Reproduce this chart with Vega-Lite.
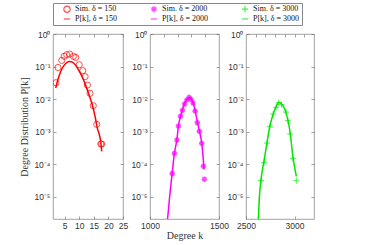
{
  "$schema": "https://vega.github.io/schema/vega-lite/v6.json",
  "padding": {"left": 19, "top": 2, "right": 2, "bottom": 0},
  "background": "white",
  "bounds": "flush",
  "datasets": {
    "s150": [
      {"series": "Sim. δ = 150", "k": 2, "p": 0.032},
      {"series": "Sim. δ = 150", "k": 2.7, "p": 0.094},
      {"series": "Sim. δ = 150", "k": 4, "p": 0.155},
      {"series": "Sim. δ = 150", "k": 4.8, "p": 0.206},
      {"series": "Sim. δ = 150", "k": 5.7, "p": 0.232},
      {"series": "Sim. δ = 150", "k": 6.7, "p": 0.242},
      {"series": "Sim. δ = 150", "k": 8, "p": 0.206},
      {"series": "Sim. δ = 150", "k": 8.8, "p": 0.191},
      {"series": "Sim. δ = 150", "k": 10, "p": 0.114},
      {"series": "Sim. δ = 150", "k": 11.2, "p": 0.075},
      {"series": "Sim. δ = 150", "k": 12, "p": 0.049},
      {"series": "Sim. δ = 150", "k": 12.8, "p": 0.027},
      {"series": "Sim. δ = 150", "k": 13.7, "p": 0.0151},
      {"series": "Sim. δ = 150", "k": 14.8, "p": 0.0063},
      {"series": "Sim. δ = 150", "k": 16, "p": 0.00169},
      {"series": "Sim. δ = 150", "k": 17.4, "p": 0.00042},
      {"series": "Sim. δ = 150", "k": 17.7, "p": 0.00042}
    ],
    "t150": [
      {"series": "P[k], δ = 150", "k": 1.93, "p": 0.022},
      {"series": "P[k], δ = 150", "k": 2.5, "p": 0.035},
      {"series": "P[k], δ = 150", "k": 3.64, "p": 0.071},
      {"series": "P[k], δ = 150", "k": 4.77, "p": 0.109},
      {"series": "P[k], δ = 150", "k": 5.94, "p": 0.137},
      {"series": "P[k], δ = 150", "k": 6.73, "p": 0.144},
      {"series": "P[k], δ = 150", "k": 7.65, "p": 0.137},
      {"series": "P[k], δ = 150", "k": 8.78, "p": 0.109},
      {"series": "P[k], δ = 150", "k": 9.9, "p": 0.075},
      {"series": "P[k], δ = 150", "k": 11.08, "p": 0.047},
      {"series": "P[k], δ = 150", "k": 12.2, "p": 0.0265},
      {"series": "P[k], δ = 150", "k": 13.34, "p": 0.0137},
      {"series": "P[k], δ = 150", "k": 14.5, "p": 0.0065},
      {"series": "P[k], δ = 150", "k": 15.4, "p": 0.003},
      {"series": "P[k], δ = 150", "k": 16.2, "p": 0.0013},
      {"series": "P[k], δ = 150", "k": 17.35, "p": 0.00051},
      {"series": "P[k], δ = 150", "k": 17.7, "p": 0.00025}
    ],
    "s2000": [
      {"series": "Sim. δ = 2000", "k": 1161, "p": 5.2e-5},
      {"series": "Sim. δ = 2000", "k": 1177, "p": 2.17e-4},
      {"series": "Sim. δ = 2000", "k": 1195, "p": 5.57e-4},
      {"series": "Sim. δ = 2000", "k": 1206, "p": 1.5e-3},
      {"series": "Sim. δ = 2000", "k": 1221, "p": 2.97e-3},
      {"series": "Sim. δ = 2000", "k": 1235, "p": 4.53e-3},
      {"series": "Sim. δ = 2000", "k": 1250, "p": 7.07e-3},
      {"series": "Sim. δ = 2000", "k": 1267, "p": 9.4e-3},
      {"series": "Sim. δ = 2000", "k": 1284, "p": 1.136e-2},
      {"series": "Sim. δ = 2000", "k": 1298, "p": 9.86e-3},
      {"series": "Sim. δ = 2000", "k": 1312, "p": 7.6e-3},
      {"series": "Sim. δ = 2000", "k": 1327, "p": 4.3e-3},
      {"series": "Sim. δ = 2000", "k": 1343, "p": 1.9e-3},
      {"series": "Sim. δ = 2000", "k": 1358, "p": 1.03e-3},
      {"series": "Sim. δ = 2000", "k": 1375, "p": 4.4e-4},
      {"series": "Sim. δ = 2000", "k": 1387, "p": 8.7e-5},
      {"series": "Sim. δ = 2000", "k": 1394, "p": 3.5e-5}
    ],
    "t2000": [
      {"series": "P[k], δ = 2000", "k": 1120, "p": 1.2e-6},
      {"series": "P[k], δ = 2000", "k": 1127, "p": 2.1e-6},
      {"series": "P[k], δ = 2000", "k": 1144, "p": 1.2e-5},
      {"series": "P[k], δ = 2000", "k": 1161, "p": 5.5e-5},
      {"series": "P[k], δ = 2000", "k": 1177, "p": 2.2e-4},
      {"series": "P[k], δ = 2000", "k": 1195, "p": 5.8e-4},
      {"series": "P[k], δ = 2000", "k": 1206, "p": 1.5e-3},
      {"series": "P[k], δ = 2000", "k": 1221, "p": 3.0e-3},
      {"series": "P[k], δ = 2000", "k": 1235, "p": 4.8e-3},
      {"series": "P[k], δ = 2000", "k": 1250, "p": 7.3e-3},
      {"series": "P[k], δ = 2000", "k": 1267, "p": 9.8e-3},
      {"series": "P[k], δ = 2000", "k": 1285, "p": 1.15e-2},
      {"series": "P[k], δ = 2000", "k": 1298, "p": 1.02e-2},
      {"series": "P[k], δ = 2000", "k": 1312, "p": 7.8e-3},
      {"series": "P[k], δ = 2000", "k": 1327, "p": 4.5e-3},
      {"series": "P[k], δ = 2000", "k": 1343, "p": 2.0e-3},
      {"series": "P[k], δ = 2000", "k": 1358, "p": 1.05e-3},
      {"series": "P[k], δ = 2000", "k": 1375, "p": 4.5e-4},
      {"series": "P[k], δ = 2000", "k": 1392, "p": 7e-5}
    ],
    "s3000": [
      {"series": "Sim. δ = 3000", "k": 2655, "p": 3.16e-5},
      {"series": "Sim. δ = 3000", "k": 2686, "p": 1.15e-4},
      {"series": "Sim. δ = 3000", "k": 2717, "p": 4.5e-4},
      {"series": "Sim. δ = 3000", "k": 2744, "p": 1.43e-3},
      {"series": "Sim. δ = 3000", "k": 2780, "p": 3.49e-3},
      {"series": "Sim. δ = 3000", "k": 2811, "p": 5.6e-3},
      {"series": "Sim. δ = 3000", "k": 2837, "p": 7.8e-3},
      {"series": "Sim. δ = 3000", "k": 2865, "p": 6.8e-3},
      {"series": "Sim. δ = 3000", "k": 2914, "p": 4.0e-3},
      {"series": "Sim. δ = 3000", "k": 2931, "p": 2.19e-3},
      {"series": "Sim. δ = 3000", "k": 2955, "p": 8.5e-4},
      {"series": "Sim. δ = 3000", "k": 2982, "p": 1.5e-4},
      {"series": "Sim. δ = 3000", "k": 3018, "p": 3.16e-5}
    ],
    "t3000": [
      {"series": "P[k], δ = 3000", "k": 2620, "p": 1.2e-6},
      {"series": "P[k], δ = 3000", "k": 2627, "p": 2.1e-6},
      {"series": "P[k], δ = 3000", "k": 2638, "p": 1e-5},
      {"series": "P[k], δ = 3000", "k": 2655, "p": 3.5e-5},
      {"series": "P[k], δ = 3000", "k": 2686, "p": 1.3e-4},
      {"series": "P[k], δ = 3000", "k": 2717, "p": 4.8e-4},
      {"series": "P[k], δ = 3000", "k": 2744, "p": 1.4e-3},
      {"series": "P[k], δ = 3000", "k": 2780, "p": 3.5e-3},
      {"series": "P[k], δ = 3000", "k": 2811, "p": 6e-3},
      {"series": "P[k], δ = 3000", "k": 2840, "p": 8e-3},
      {"series": "P[k], δ = 3000", "k": 2865, "p": 7.2e-3},
      {"series": "P[k], δ = 3000", "k": 2900, "p": 4.8e-3},
      {"series": "P[k], δ = 3000", "k": 2931, "p": 2.3e-3},
      {"series": "P[k], δ = 3000", "k": 2955, "p": 9e-4},
      {"series": "P[k], δ = 3000", "k": 2982, "p": 1.8e-4},
      {"series": "P[k], δ = 3000", "k": 3018, "p": 4.3e-5}
    ]
  },
  "hconcat": [
    {
      "width": 70, "height": 185,
      "layer": [
        {
          "data": {"name": "t150"},
          "mark": {"type": "line", "strokeWidth": 1.5, "clip": true, "interpolate": "monotone"},
          "encoding": {
            "x": {"field": "k", "type": "quantitative", "scale": {"domain": [1, 25], "nice": false, "zero": false},
                  "axis": {"orient": "bottom", "values": [5, 10, 15, 20, 25], "title": null}},
            "y": {"field": "p", "type": "quantitative", "scale": {"type": "log", "domain": [2.1e-6, 1], "nice": false},
                  "axis": {"orient": "left", "values": [1, 0.1, 0.01, 0.001, 0.0001, 0.00001], "title": "Degree Distribution P[k]",
                           "labelExpr": "'10' + ['⁰','⁻¹','⁻²','⁻³','⁻⁴','⁻⁵','⁻⁶'][round(-log(datum.value)/LN10)]"}},
            "color": {"field": "series", "type": "nominal",
                      "scale": {"domain": ["Sim. δ = 150", "Sim. δ = 2000", "Sim. δ = 3000", "P[k], δ = 150", "P[k], δ = 2000", "P[k], δ = 3000"],
                                "range": ["#ff0000", "#ff00ff", "#00e600", "#ff0000", "#ff00ff", "#00e600"]},
                      "legend": {"orient": "none", "legendX": 0, "legendY": -31, "direction": "horizontal", "columns": 3}}
          }
        },
        {
          "data": {"name": "s150"},
          "mark": {"type": "point", "filled": false, "size": 38, "strokeWidth": 1, "clip": true},
          "encoding": {
            "x": {"field": "k", "type": "quantitative", "axis": {"orient": "top", "values": [5, 10, 15, 20, 25], "labels": false, "title": null}},
            "y": {"field": "p", "type": "quantitative", "axis": {"orient": "right", "values": [1, 0.1, 0.01, 0.001, 0.0001, 0.00001], "labels": false, "title": null}},
            "color": {"field": "series", "type": "nominal"},
            "shape": {"field": "series", "type": "nominal",
                      "scale": {"domain": ["Sim. δ = 150", "Sim. δ = 2000", "Sim. δ = 3000", "P[k], δ = 150", "P[k], δ = 2000", "P[k], δ = 3000"],
                                "range": ["circle", "M-1,0L1,0M0,-1L0,1M-0.7,-0.7L0.7,0.7M-0.7,0.7L0.7,-0.7", "M-1,0L1,0M0,-1L0,1", "stroke", "stroke", "stroke"]},
                      "legend": {"orient": "none", "legendX": 0, "legendY": -31, "direction": "horizontal", "columns": 3}}
          }
        }
      ],
      "resolve": {"axis": {"x": "independent", "y": "independent"}}
    },
    {
      "width": 69, "height": 185,
      "layer": [
        {
          "data": {"name": "t2000"},
          "mark": {"type": "line", "strokeWidth": 1.5, "clip": true, "interpolate": "monotone"},
          "encoding": {
            "x": {"field": "k", "type": "quantitative", "scale": {"domain": [1000, 1500], "nice": false, "zero": false},
                  "axis": {"orient": "bottom", "values": [1000, 1500], "format": "d", "title": "Degree k"}},
            "y": {"field": "p", "type": "quantitative", "scale": {"type": "log", "domain": [2.1e-6, 1], "nice": false},
                  "axis": {"orient": "left", "values": [1, 0.1, 0.01, 0.001, 0.0001, 0.00001], "title": null,
                           "labelExpr": "'10' + ['⁰','⁻¹','⁻²','⁻³','⁻⁴','⁻⁵','⁻⁶'][round(-log(datum.value)/LN10)]"}},
            "color": {"field": "series", "type": "nominal"}
          }
        },
        {
          "data": {"name": "s2000"},
          "mark": {"type": "point", "filled": false, "size": 30, "strokeWidth": 1.6, "clip": true},
          "encoding": {
            "x": {"field": "k", "type": "quantitative", "axis": {"orient": "top", "values": [1100, 1200, 1300, 1400], "labels": false, "title": null}},
            "y": {"field": "p", "type": "quantitative", "axis": {"orient": "right", "values": [1, 0.1, 0.01, 0.001, 0.0001, 0.00001], "labels": false, "title": null}},
            "color": {"field": "series", "type": "nominal"},
            "shape": {"field": "series", "type": "nominal"}
          }
        }
      ],
      "resolve": {"axis": {"x": "independent", "y": "independent"}}
    },
    {
      "width": 68, "height": 185,
      "layer": [
        {
          "data": {"name": "t3000"},
          "mark": {"type": "line", "strokeWidth": 1.5, "clip": true, "interpolate": "monotone"},
          "encoding": {
            "x": {"field": "k", "type": "quantitative", "scale": {"domain": [2500, 3200], "nice": false, "zero": false},
                  "axis": {"orient": "bottom", "values": [2500, 3000], "format": "d", "title": null}},
            "y": {"field": "p", "type": "quantitative", "scale": {"type": "log", "domain": [2.1e-6, 1], "nice": false},
                  "axis": {"orient": "left", "values": [1, 0.1, 0.01, 0.001, 0.0001, 0.00001], "title": null,
                           "labelExpr": "'10' + ['⁰','⁻¹','⁻²','⁻³','⁻⁴','⁻⁵','⁻⁶'][round(-log(datum.value)/LN10)]"}},
            "color": {"field": "series", "type": "nominal"}
          }
        },
        {
          "data": {"name": "s3000"},
          "mark": {"type": "point", "filled": false, "size": 36, "strokeWidth": 1, "clip": true},
          "encoding": {
            "x": {"field": "k", "type": "quantitative", "axis": {"orient": "top", "values": [2600, 2700, 2800, 2900, 3000, 3100], "labels": false, "title": null}},
            "y": {"field": "p", "type": "quantitative", "axis": {"orient": "right", "values": [1, 0.1, 0.01, 0.001, 0.0001, 0.00001], "labels": false, "title": null}},
            "color": {"field": "series", "type": "nominal"},
            "shape": {"field": "series", "type": "nominal"}
          }
        }
      ],
      "resolve": {"axis": {"x": "independent", "y": "independent"}}
    }
  ],
  "spacing": 27,
  "resolve": {"scale": {"color": "shared", "shape": "shared"}, "legend": {"color": "shared", "shape": "shared"}},
  "config": {
    "view": {"stroke": "#8a8a8a", "strokeWidth": 0.8},
    "axis": {
      "domain": false, "grid": false,
      "tickSize": -3, "tickColor": "#666666", "tickWidth": 0.6,
      "labelFont": "Liberation Sans", "labelFontSize": 8.5, "labelColor": "#333333",
      "labelPadding": 6, "labelOverlap": false, "labelFlush": false,
      "titleFont": "Liberation Serif", "titleFontSize": 10, "titleFontWeight": "normal", "titleColor": "#333333"
    },
    "axisY": {"titlePadding": 4},
    "axisX": {"titlePadding": 1, "labelPadding": 5},
    "legend": {
      "title": null,
      "labelFont": "Liberation Serif", "labelFontSize": 8, "labelColor": "#111111",
      "strokeColor": "#888888", "padding": 2, "columnPadding": 24, "rowPadding": 0,
      "symbolOffset": 8, "symbolSize": 40, "symbolStrokeWidth": 1.2
    }
  }
}
